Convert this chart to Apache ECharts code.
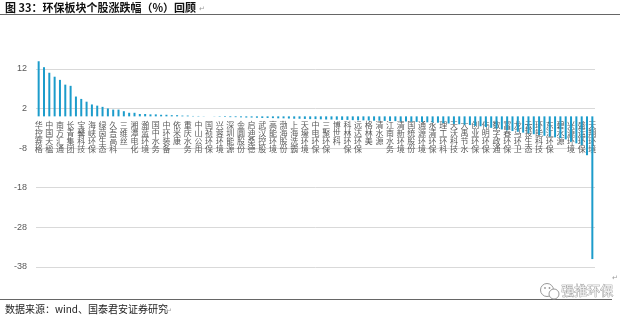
<!DOCTYPE html>
<html><head><meta charset="utf-8">
<script src="https://cdn.jsdelivr.net/npm/echarts@6/dist/echarts.min.js"></script>
<style>html,body{margin:0;padding:0;background:#fff;}#c{width:620px;height:322px;}</style>
</head><body><div id="c"></div>
<script>
// Shown (every other) category names
const shownNames = ['华控赛格','中国天楹','南方汇通','长青集团','宝馨科技','海峡环保','绿茵生态','久吾高科','三维丝','湘潭电化',
  '瀚蓝环境','国中水务','中环装备','依米康','重庆水务','中山公用','国祯环保','兴蓉环境','深圳能源','金圆股份',
  '启迪桑德','武汉控股','高能环境','渤海股份','上海洗霸','天壕环境','中电环保','三聚环保','博世科','科林环保',
  '远达环保','格林美','清水源','江南水务','清新环境','国统股份','通源环境','永清环保','理工环科','天沃科技',
  '大禹节水','创业环保','伟明环保','数字政通','富春环保','龙马环卫','云投生态','环能科技','东江环保','碧水源',
  '兴源环境','盛运环保','天翔环境'];
// Categories between the shown ones
const otherNames = ['维尔利','先河环保','菲达环保','巴安水务','雪迪龙','聚光科技','中金环境','首创股份','钱江水利','洪城水业',
  '中原环保','惠城环保','龙净环保','中材节能','迪森股份','神雾环保','神雾节能','易世达','隆华科技','铁汉生态',
  '东方园林','岭南股份','蒙草生态','美晨生态','京蓝科技','中持股份','鹏鹞环保','德创环保','中再资环','华西能源',
  '三川智慧','新界泵业','旺能环境','城发环境','绿色动力','上海环境','力合科技','开能健康','联泰环保','正和生态',
  '元力股份','津膜科技','万邦达','天瑞仪器','博天环境','科融环境','盈峰环境','汉威科技','三达膜','永东股份',
  '兴化股份','华光环能'];
const categories = [];
shownNames.forEach((n, i) => { categories.push(n); if (i < otherNames.length) categories.push(otherNames[i]); });

const values = [
  13.9, 12.4, 11.0, 10.0, 9.2, 8.0, 7.7, 5.0, 4.4, 3.7,
  3.0, 2.7, 2.4, 2.0, 1.7, 1.7, 1.3, 0.9, 0.9, 0.6,
  0.6, 0.5, 0.5, 0.4, 0.4, 0.3, 0.3, 0.2,
  0.2, 0.1, 0.1, 0.05, 0.0, -0.05, -0.1,
  -0.15, -0.2, -0.2, -0.25, -0.3, -0.3, -0.35, -0.4, -0.4, -0.45, -0.5,
  -0.5, -0.55, -0.6, -0.6, -0.65, -0.7, -0.7, -0.75, -0.8, -0.8, -0.85, -0.9, -0.9, -0.95, -1.0, -1.0,
  -1.05, -1.1, -1.1, -1.15, -1.2, -1.2, -1.3, -1.3, -1.35, -1.4, -1.45, -1.5, -1.55, -1.6, -1.7, -1.8, -1.9, -2.0, -2.1, -2.2, -2.4, -2.5,
  -2.7, -2.9, -3.1, -3.3, -3.5, -3.7, -3.9, -4.1, -4.3, -4.5, -4.7, -4.9, -5.1, -5.3, -5.5, -5.8, -6.4, -6.8, -7.3, -9.8, -36.0
];
const yMin = -38, yMax = 18, yStep = 10;

const titleText = '图 33：环保板块个股涨跌幅（%）回顾';
const sourceText = '数据来源：wind、国泰君安证券研究';
const watermarkText = '强推环保';

const gridTop = 45, gridBottom = 55, H = 322;
const plotH = H - gridTop - gridBottom;
// place category axis at value 0 of the y scale
const zeroOffset = -plotH * (0 - yMin) / (yMax - yMin);

const chart = echarts.init(document.getElementById('c'), null, {renderer: 'canvas'});
chart.setOption({
  animation: false,
  backgroundColor: '#fff',
  grid: {left: 36, right: 25, top: gridTop, bottom: gridBottom, containLabel: false, outerBoundsMode: 'none'},
  xAxis: {
    type: 'category',
    data: categories,
    offset: zeroOffset,
    axisLine: {show: false, onZero: false},
    axisTick: {show: false},
    axisLabel: {
      interval: 1, fontSize: 8, lineHeight: 8.3, color: '#595959', margin: 4,
      fontFamily: 'Noto Sans CJK SC',
      formatter: v => v.split('').join('\n')
    }
  },
  yAxis: {
    type: 'value', min: yMin, max: yMax, interval: yStep,
    axisLine: {show: false}, axisTick: {show: false},
    axisLabel: {showMaxLabel: false, fontSize: 9, color: '#595959', margin: 9, fontFamily: 'Liberation Sans'},
    splitLine: {showMaxLine: false, lineStyle: {color: '#d9d9d9', width: 1}}
  },
  series: [{
    type: 'bar', data: values, barWidth: 2, clip: false,
    itemStyle: {color: '#1c9ccb'}
  }],
  graphic: [
    {type: 'text', left: 5, top: 2, style: {text: titleText, font: 'bold 11px "Noto Sans CJK SC"', fill: '#111'}},
    {type: 'text', left: 199, top: 5, style: {text: '↵', font: '7px "Noto Sans CJK SC"', fill: '#999'}},
    {type: 'line', shape: {x1: 0, y1: 14.5, x2: 620, y2: 14.5}, style: {stroke: '#666', lineWidth: 1}},
    {type: 'line', shape: {x1: 0, y1: 299.5, x2: 612, y2: 299.5}, style: {stroke: '#666', lineWidth: 1}},
    {type: 'text', left: 5, top: 304, style: {text: sourceText, font: '10px "Noto Sans CJK SC"', fill: '#222'}},
    {type: 'text', left: 166, top: 307, style: {text: '↵', font: '7px "Noto Sans CJK SC"', fill: '#999'}},
    {type: 'text', left: 612, top: 274, style: {text: '↵', font: '7px "Noto Sans CJK SC"', fill: '#999'}},
    {type: 'circle', shape: {cx: 547, cy: 290, r: 6.5}, style: {fill: '#fff', stroke: '#999', lineWidth: 1}},
    {type: 'circle', shape: {cx: 554, cy: 294, r: 5}, style: {fill: '#fff', stroke: '#999', lineWidth: 1}},
    {type: 'circle', shape: {cx: 545, cy: 288, r: 0.9}, style: {fill: '#999'}},
    {type: 'circle', shape: {cx: 549.5, cy: 288, r: 0.9}, style: {fill: '#999'}},
    {type: 'text', left: 561, top: 283, style: {text: watermarkText, font: '13px "Noto Sans CJK SC"', fill: '#eee', stroke: '#888', lineWidth: 0.7}}
  ]
});
</script>
</body></html>
